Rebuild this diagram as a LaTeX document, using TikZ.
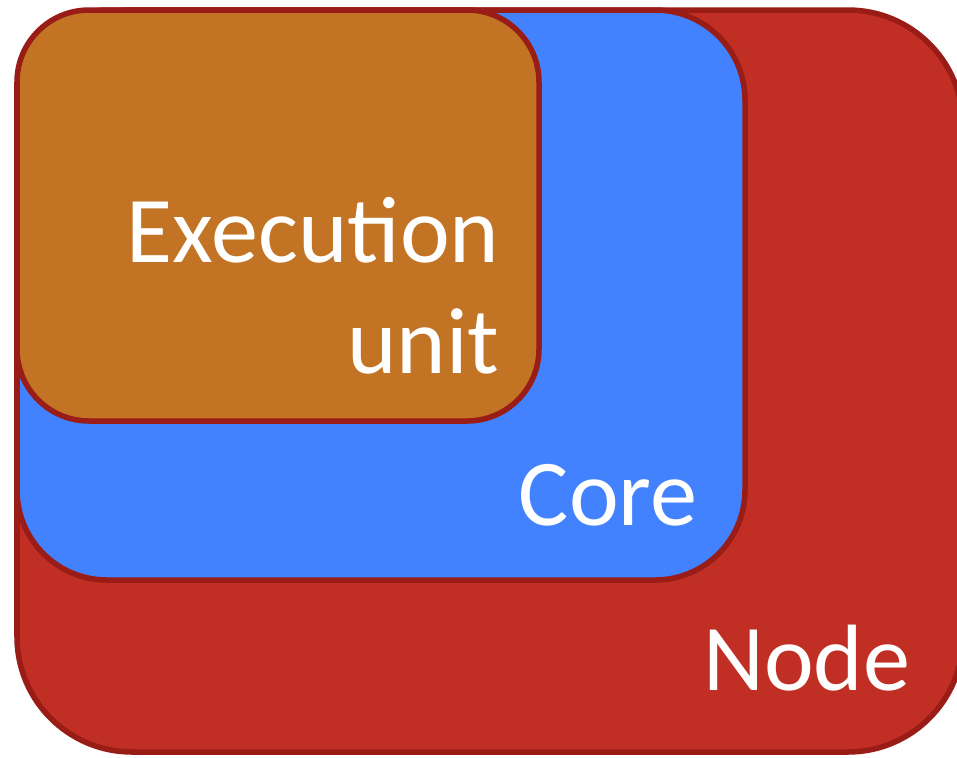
\documentclass[tikz,border=0pt]{standalone}
\usepackage{fontspec}
\setmainfont{Carlito}

\definecolor{nodered}{HTML}{C02E24}
\definecolor{corblue}{HTML}{4282FF}
\definecolor{exebrown}{HTML}{C27424}
\definecolor{edgered}{HTML}{991C16}

\begin{document}
\begin{tikzpicture}[x=0.01cm, y=-0.01cm,
    box/.style={draw=edgered, line width=0.055cm},
    boxlabel/.style={text=white, font=\fontsize{26.8}{31}\selectfont,
        anchor=base east, inner sep=0pt, align=right}]
    \useasboundingbox (0,0) rectangle (957,757);
    % Draw node
    \filldraw[box, fill=nodered, rounded corners=1.15cm] (17,10) rectangle (963,752);
    % Draw core
    \filldraw[box, fill=corblue, rounded corners=0.9cm] (17,10) rectangle (745,580);
    % Draw execution unit
    \filldraw[box, fill=exebrown, rounded corners=0.72cm] (17,10) rectangle (539,421);
    % Labels
    \node[boxlabel] (exelabel) at (500,262) {Execution};
    \node[boxlabel] (unitlabel) at (500,373) {unit};
    \node[boxlabel] (corelabel) at (698,525) {Core};
    \node[boxlabel] (nodelabel) at (911,690) {Node};
\end{tikzpicture}
\end{document}
